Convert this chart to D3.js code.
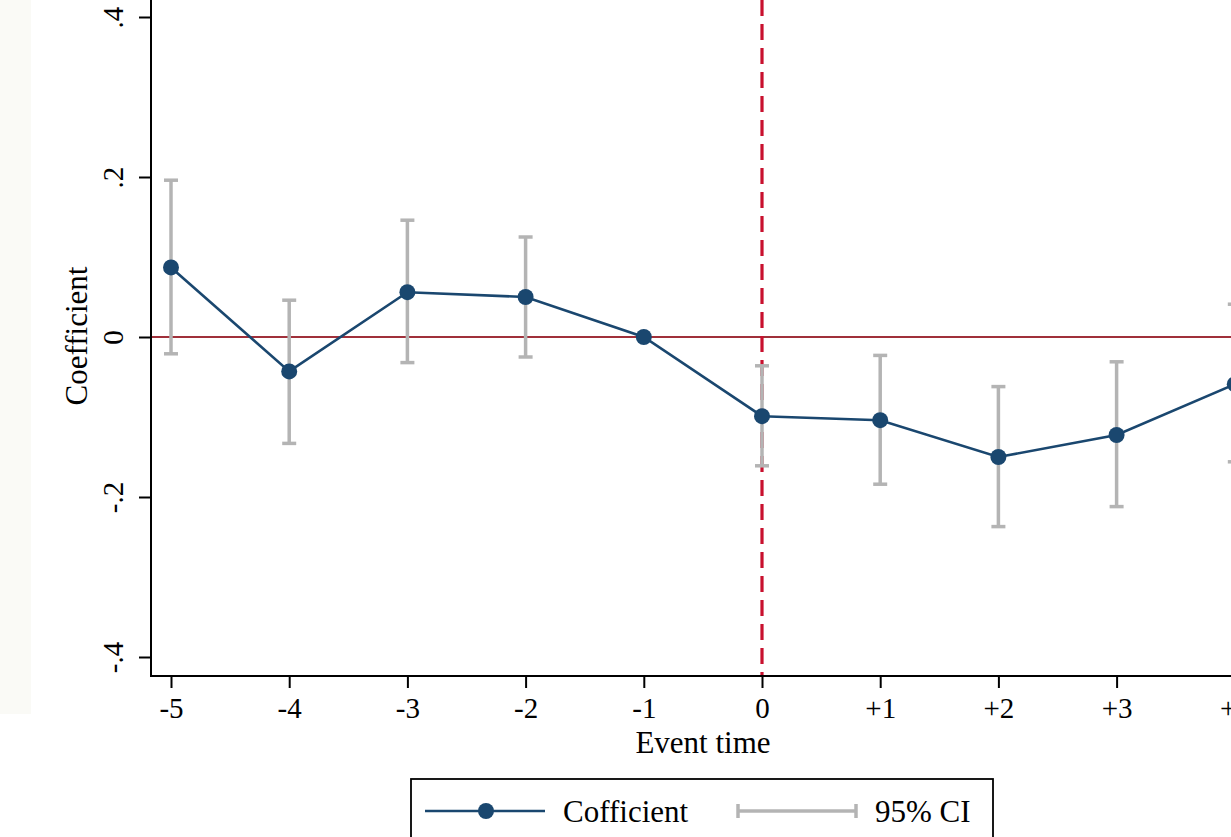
<html>
<head>
<script src="https://d3js.org/d3.v7.min.js"></script>
<style>
  body { margin: 0; background: #fff; }
  text { font-family: "Liberation Serif", "Times New Roman", serif; fill: #000; }
</style>
</head>
<body>
<script>
// event time and estimates
var eventTimes = [-5, -4, -3, -2, -1, 0, 1, 2, 3, 4];
var eventLabels = ["-5", "-4", "-3", "-2", "-1", "0", "+1", "+2", "+3", "+4"];
var coefs = [0.087, -0.043, 0.056, 0.050, 0, -0.099, -0.104, -0.150, -0.1225, -0.059];
var ciLow = [-0.021, -0.133, -0.032, -0.025, null, -0.161, -0.184, -0.237, -0.212, -0.156];
var ciHigh = [0.196, 0.046, 0.146, 0.125, null, -0.036, -0.023, -0.062, -0.031, 0.041];
var yTicks = [-0.4, -0.2, 0, 0.2, 0.4];
var yLabels = ["-.4", "-.2", "0", ".2", ".4"];

var W = 1231, H = 837;
var svg = d3.select("body").append("svg").attr("width", W).attr("height", H);

// faint page strip on the left edge
svg.append("rect").attr("x", 0).attr("y", 0).attr("width", 31).attr("height", 714)
    .attr("fill", "#fafaf6");

var x = d3.scaleLinear().domain([-5, 4]).range([171, 171 + 9 * 118.2]);
var y = d3.scaleLinear().domain([-0.4, 0.4]).range([657, 17]);
var axisX = 151, axisY = 676;

// zero line
svg.append("line")
    .attr("x1", axisX).attr("x2", W).attr("y1", y(0)).attr("y2", y(0))
    .attr("stroke", "#a0303a").attr("stroke-width", 1.8);

// event line
svg.append("line")
    .attr("x1", x(0)).attr("x2", x(0)).attr("y1", 0).attr("y2", axisY)
    .attr("stroke", "#c8102e").attr("stroke-width", 3.2)
    .attr("stroke-dasharray", "16,8");

// confidence intervals
var ci = eventTimes.map((t, i) => ({t: t, lo: ciLow[i], hi: ciHigh[i]})).filter(d => d.lo !== null);
var ciG = svg.append("g").attr("stroke", "#b4b4b4").attr("stroke-width", 3.5);
ciG.selectAll(".v").data(ci).enter().append("line")
    .attr("x1", d => x(d.t)).attr("x2", d => x(d.t))
    .attr("y1", d => y(d.lo)).attr("y2", d => y(d.hi));
ciG.selectAll(".lo").data(ci).enter().append("line")
    .attr("x1", d => x(d.t) - 7).attr("x2", d => x(d.t) + 7)
    .attr("y1", d => y(d.lo)).attr("y2", d => y(d.lo));
ciG.selectAll(".hi").data(ci).enter().append("line")
    .attr("x1", d => x(d.t) - 7).attr("x2", d => x(d.t) + 7)
    .attr("y1", d => y(d.hi)).attr("y2", d => y(d.hi));

// coefficient line + markers
var pts = eventTimes.map((t, i) => ({t: t, c: coefs[i]}));
svg.append("path").datum(pts)
    .attr("d", d3.line().x(d => x(d.t)).y(d => y(d.c)))
    .attr("fill", "none").attr("stroke", "#1a476f").attr("stroke-width", 2.6);
svg.selectAll(".pt").data(pts).enter().append("circle")
    .attr("cx", d => x(d.t)).attr("cy", d => y(d.c)).attr("r", 8)
    .attr("fill", "#1a476f");

// y axis
var yAxis = svg.append("g").attr("transform", "translate(" + axisX + ",0)")
    .call(d3.axisLeft(y).tickValues(yTicks).tickSize(12).tickFormat((d, i) => yLabels[i]));
yAxis.select(".domain").remove();
yAxis.selectAll(".tick line").attr("stroke", "#000").attr("stroke-width", 2);
yAxis.selectAll(".tick text")
    .attr("font-size", 29).attr("font-family", "Liberation Serif")
    .attr("transform", "rotate(-90)")
    .attr("x", 0).attr("y", -28).attr("dy", 0)
    .attr("text-anchor", "middle");
svg.append("line").attr("x1", axisX).attr("x2", axisX).attr("y1", 0).attr("y2", axisY + 1)
    .attr("stroke", "#000").attr("stroke-width", 2);

// x axis
var xAxis = svg.append("g").attr("transform", "translate(0," + axisY + ")")
    .call(d3.axisBottom(x).tickValues(eventTimes).tickSize(12).tickFormat((d, i) => eventLabels[i]));
xAxis.select(".domain").remove();
xAxis.selectAll(".tick line").attr("stroke", "#000").attr("stroke-width", 2);
xAxis.selectAll(".tick text")
    .attr("font-size", 29).attr("font-family", "Liberation Serif")
    .attr("y", 42).attr("dy", 0);
svg.append("line").attr("x1", axisX - 1).attr("x2", W).attr("y1", axisY).attr("y2", axisY)
    .attr("stroke", "#000").attr("stroke-width", 2);

// axis titles
svg.append("text").attr("x", 703).attr("y", 753).attr("text-anchor", "middle")
    .attr("font-size", 31).text("Event time");
svg.append("text").attr("transform", "translate(87,336) rotate(-90)")
    .attr("text-anchor", "middle").attr("font-size", 31).text("Coefficient");

// legend
var lg = svg.append("g");
var ly = 811;
lg.append("rect").attr("x", 411).attr("y", 779).attr("width", 582).attr("height", 80)
    .attr("fill", "#fff").attr("stroke", "#000").attr("stroke-width", 1.8);
lg.append("line").attr("x1", 425).attr("x2", 545).attr("y1", ly).attr("y2", ly)
    .attr("stroke", "#1a476f").attr("stroke-width", 2.6);
lg.append("circle").attr("cx", 486).attr("cy", ly).attr("r", 8).attr("fill", "#1a476f");
lg.append("text").attr("x", 563).attr("y", ly + 11).attr("font-size", 31).text("Cofficient");
var ciLg = lg.append("g").attr("stroke", "#b4b4b4").attr("stroke-width", 3.5);
ciLg.append("line").attr("x1", 738).attr("x2", 856).attr("y1", ly).attr("y2", ly);
ciLg.append("line").attr("x1", 738).attr("x2", 738).attr("y1", ly - 7).attr("y2", ly + 7);
ciLg.append("line").attr("x1", 856).attr("x2", 856).attr("y1", ly - 7).attr("y2", ly + 7);
lg.append("text").attr("x", 875).attr("y", ly + 11).attr("font-size", 31).text("95% CI");
</script>
</body>
</html>
